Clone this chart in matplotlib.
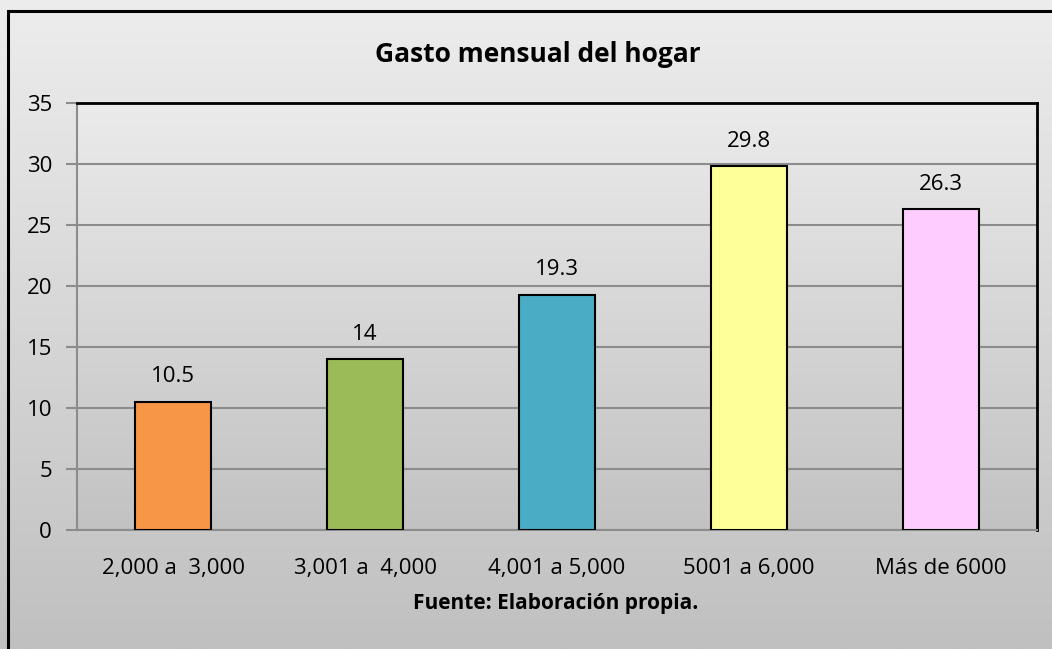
import numpy as np
import matplotlib.pyplot as plt
from matplotlib.colors import LinearSegmentedColormap
from matplotlib.patches import Rectangle

categories = ['2,000 a  3,000', '3,001 a  4,000', '4,001 a 5,000', '5001 a 6,000', 'Más de 6000']
values = [10.5, 14, 19.3, 29.8, 26.3]
labels = ['10.5', '14', '19.3', '29.8', '26.3']
colors = ['#F79646', '#9BBB59', '#4BACC6', '#FFFF99', '#FFCCFF']

plt.rcParams['font.family'] = ['Open Sans', 'DejaVu Sans']

fig = plt.figure(figsize=(10.52, 6.49), dpi=100)

# fondo degradado de la figura
bg = fig.add_axes([0, 0, 1, 1], zorder=-2)
grad = np.linspace(0, 1, 256).reshape(-1, 1)
bg.imshow(grad, aspect='auto', cmap=LinearSegmentedColormap.from_list('g', ['#ededed', '#c0c0c0']),
          extent=[0, 1, 0, 1])
bg.set_xlim(0, 1)
bg.set_ylim(0, 1)
bg.axis('off')
bg.add_patch(Rectangle((8 / 1052, -0.05), 1.1, 1 - 11 / 649 + 0.05,
                       fill=False, edgecolor='black', linewidth=2.2))

ax = fig.add_axes([77 / 1052, 1 - 530 / 649, 960 / 1052, (530 - 103) / 649])
x = np.arange(len(categories))
ax.imshow(grad, aspect='auto', cmap=LinearSegmentedColormap.from_list('p', ['#ebebeb', '#c2c2c2']),
          extent=[-0.5, 4.5, 0, 35], zorder=0)
ax.bar(x, values, width=0.4, color=colors, edgecolor='black', linewidth=1.5, zorder=3)
for xi, v, lab in zip(x, values, labels):
    ax.text(xi, v + 1.2, lab, ha='center', va='bottom', fontsize=16)

ax.set_xlim(-0.5, 4.5)
ax.set_ylim(0, 35)
ax.set_yticks(range(0, 36, 5))
ax.yaxis.grid(True, color='#8c8c8c', linewidth=1.5, zorder=1)
ax.set_axisbelow(True)
ax.set_xticks(x)
ax.set_xticklabels(categories, fontsize=16)
ax.tick_params(axis='x', length=0, pad=20)
ax.tick_params(axis='y', length=8, color='#8c8c8c', width=1.5, labelsize=16, pad=10)
for s in ['left', 'bottom']:
    ax.spines[s].set_color('#8c8c8c')
    ax.spines[s].set_linewidth(1.5)
for s in ['top', 'right']:
    ax.spines[s].set_color('black')
    ax.spines[s].set_linewidth(2)

fig.text(538 / 1052, 1 - 55 / 649, 'Gasto mensual del hogar', ha='center', va='center',
         fontsize=19, fontweight='bold')
fig.text(556 / 1052, 1 - 603 / 649, 'Fuente: Elaboración propia.', ha='center', va='center',
         fontsize=15, fontweight='bold')

fig.savefig('out.png', dpi=100)
